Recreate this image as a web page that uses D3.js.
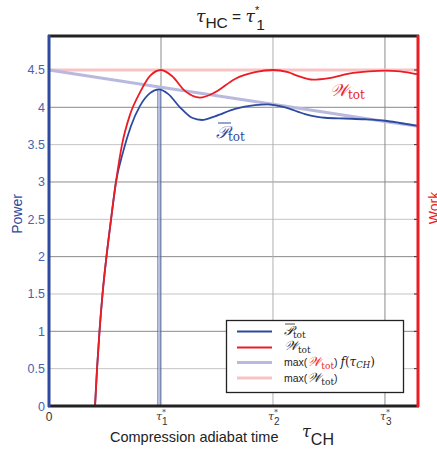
<!DOCTYPE html>
<html>
<head>
<meta charset="utf-8">
<script src="https://cdn.jsdelivr.net/npm/d3@7"></script>
<style>
  body { margin: 0; background: #fff; }
  svg { display: block; }
  text { font-family: "Liberation Sans", Arial, sans-serif; }
  .math { font-family: "DejaVu Serif", "Liberation Serif", serif; }
</style>
</head>
<body>
<script>
// data (tau in units of tau*_1)
const wTau = [0.411, 0.429, 0.451, 0.478, 0.513, 0.554, 0.598, 0.652, 0.723, 0.8125, 0.902, 1.0, 1.098, 1.214, 1.348, 1.482, 1.661, 1.839, 2.0, 2.134, 2.241, 2.357, 2.5, 2.679, 2.857, 3.0, 3.134, 3.295];
const wTot = [0, 0.5, 1.0, 1.5, 2.0, 2.5, 3.0, 3.5, 3.9, 4.2, 4.42, 4.5, 4.42, 4.22, 4.13, 4.2, 4.38, 4.47, 4.5, 4.47, 4.41, 4.37, 4.39, 4.45, 4.48, 4.49, 4.48, 4.44];

const pTau = [0.411, 0.429, 0.451, 0.478, 0.513, 0.554, 0.598, 0.661, 0.732, 0.8125, 0.902, 0.982, 1.063, 1.17, 1.277, 1.366, 1.482, 1.661, 1.839, 1.955, 2.107, 2.286, 2.464, 2.643, 2.821, 3.0, 3.134, 3.295];
const pTot = [0, 0.5, 1.0, 1.5, 2.0, 2.5, 3.0, 3.4, 3.75, 4.02, 4.19, 4.24, 4.18, 4.0, 3.86, 3.83, 3.88, 3.98, 4.03, 4.04, 4.0, 3.91, 3.86, 3.85, 3.84, 3.82, 3.79, 3.75];

const fTau = [0, 1, 2, 3, 3.295];
const fVal = [4.5, 4.27, 4.04, 3.81, 3.745];

const maxTau = [0, 3.295];
const maxVal = [4.5, 4.5];

const yTicks = [0, 0.5, 1, 1.5, 2, 2.5, 3, 3.5, 4, 4.5];
const xTicks = [1, 2, 3];

const blue = "#2d4aa0", red = "#ec1c24", lav = "#b9b9e0", pink = "#f8c3c3";

const W = 437, H = 450;
const svg = d3.select("body").append("svg").attr("width", W).attr("height", H);

const x = d3.scaleLinear().domain([0, 3.295]).range([49, 418]);
const y = d3.scaleLinear().domain([0, 4.955]).range([406, 36]);

// grid
svg.append("g").selectAll("line").data(yTicks.filter(v => v > 0 && v < 4.5)).enter().append("line")
  .attr("x1", x(0)).attr("x2", x(3.295))
  .attr("y1", d => y(d)).attr("y2", d => y(d))
  .attr("stroke", d => d % 1 === 0 ? "#8a8a8a" : "#c4c4c4").attr("stroke-width", 1);
svg.append("g").selectAll("line").data(xTicks).enter().append("line")
  .attr("x1", d => x(d)).attr("x2", d => x(d))
  .attr("y1", y(0)).attr("y2", 36)
  .attr("stroke", d => d === 2 ? "#b0b0b0" : "#8a8a8a").attr("stroke-width", 1);

const line = d3.line().x(d => x(d[0])).y(d => y(d[1])).curve(d3.curveMonotoneX);

// reference lines
svg.append("path").datum(maxTau.map((t, i) => [t, maxVal[i]]))
  .attr("d", line).attr("fill", "none").attr("stroke", pink).attr("stroke-width", 3);
svg.append("path").datum(fTau.map((t, i) => [t, fVal[i]]))
  .attr("d", d3.line().x(d => x(d[0])).y(d => y(d[1])))
  .attr("fill", "none").attr("stroke", lav).attr("stroke-width", 3);

// marker at tau*_1
const peakP = d3.max(pTot);
const peakT = pTau[pTot.indexOf(peakP)];
svg.append("line").attr("x1", x(peakT)).attr("x2", x(peakT)).attr("y1", y(peakP)).attr("y2", y(0))
  .attr("stroke", "#d4d4ee").attr("stroke-width", 1.5);
[-1.2, 1.2].forEach(o => {
  svg.append("line").attr("x1", x(peakT) + o).attr("x2", x(peakT) + o).attr("y1", y(peakP)).attr("y2", y(0))
    .attr("stroke", blue).attr("stroke-width", 0.7);
});

// curves
svg.append("path").datum(pTau.map((t, i) => [t, pTot[i]]))
  .attr("d", line).attr("fill", "none").attr("stroke", blue).attr("stroke-width", 1.8);
svg.append("path").datum(wTau.map((t, i) => [t, wTot[i]]))
  .attr("d", line).attr("fill", "none").attr("stroke", red).attr("stroke-width", 1.8);

// right-side ticks
svg.append("g").selectAll("line").data(yTicks.filter(v => v > 0)).enter().append("line")
  .attr("x1", x(3.295) - 4).attr("x2", x(3.295)).attr("y1", d => y(d)).attr("y2", d => y(d))
  .attr("stroke", "#333").attr("stroke-width", 1);

// frame
svg.append("line").attr("x1", 48).attr("x2", 419).attr("y1", 36).attr("y2", 36).attr("stroke", "#222").attr("stroke-width", 3);
svg.append("line").attr("x1", 48).attr("x2", 419).attr("y1", 406).attr("y2", 406).attr("stroke", "#222").attr("stroke-width", 3);
svg.append("line").attr("x1", 49).attr("x2", 49).attr("y1", 35).attr("y2", 407).attr("stroke", blue).attr("stroke-width", 3);
svg.append("line").attr("x1", 418).attr("x2", 418).attr("y1", 35).attr("y2", 407).attr("stroke", red).attr("stroke-width", 3);

// y tick labels
svg.append("g").selectAll("text").data(yTicks).enter().append("text")
  .attr("x", 45).attr("y", d => y(d) + 4.5).attr("text-anchor", "end")
  .attr("fill", "#4a62b0").style("font-size", "12.5px")
  .text(d => d);

// x tick labels
svg.append("text").attr("x", 49).attr("y", 421).attr("text-anchor", "middle").style("font-size", "12px").attr("fill", "#333").text("0");
xTicks.forEach(t => {
  const g = svg.append("text").attr("class", "math").attr("x", x(t) - 5).attr("y", 420).style("font-size", "11px").attr("fill", "#333");
  g.append("tspan").style("font-style", "italic").text("τ");
  g.append("tspan").attr("dy", -5).style("font-size", "8px").text("*");
  g.append("tspan").attr("dx", -4).attr("dy", 10).style("font-size", "10px").style("font-family", "Liberation Sans, Arial, sans-serif").text(t);
});

// axis titles
svg.append("text").attr("transform", "translate(22,214) rotate(-90)").attr("text-anchor", "middle")
  .attr("fill", blue).style("font-size", "14px").text("Power");
svg.append("text").attr("transform", "translate(439,208) rotate(-90)").attr("text-anchor", "middle")
  .attr("fill", red).style("font-size", "14px").text("Work");
svg.append("text").attr("x", 110).attr("y", 442).style("font-size", "14.5px").attr("fill", "#222").text("Compression adiabat time");
const xl = svg.append("text").attr("x", 302).attr("y", 437).attr("fill", "#222");
xl.append("tspan").attr("class", "math").style("font-style", "italic").style("font-size", "16px").text("τ");
xl.append("tspan").attr("dy", 8).style("font-size", "16px").text("CH");

// title
const tl = svg.append("text").attr("x", 196).attr("y", 22).attr("fill", "#222").style("font-size", "15.5px");
tl.append("tspan").attr("class", "math").style("font-style", "italic").style("font-size", "17px").text("τ");
tl.append("tspan").attr("dy", 6).text("HC");
tl.append("tspan").attr("dy", -6).text(" = ");
tl.append("tspan").attr("class", "math").style("font-style", "italic").style("font-size", "17px").text("τ");
tl.append("tspan").attr("dy", -8).style("font-size", "11px").text("*");
tl.append("tspan").attr("dx", -3).attr("dy", 16).text("1");

// curve labels
const wl = svg.append("text").attr("class", "math").attr("x", 330).attr("y", 96).attr("fill", red);
wl.append("tspan").style("font-size", "17px").style("font-style", "italic").text("𝒲");
wl.append("tspan").attr("dy", 3).style("font-size", "12px").text("tot");
const pl = svg.append("text").attr("class", "math").attr("x", 216).attr("y", 138).attr("fill", blue);
pl.append("tspan").style("font-size", "17px").style("font-style", "italic").text("𝒫");
pl.append("tspan").attr("dy", 3).style("font-size", "12px").text("tot");
svg.append("line").attr("x1", 218).attr("x2", 231).attr("y1", 123).attr("y2", 123).attr("stroke", blue).attr("stroke-width", 1);

// legend
const lg = svg.append("g");
lg.append("rect").attr("x", 226.5).attr("y", 320.5).attr("width", 177).attr("height", 72)
  .attr("fill", "#fff").attr("stroke", "#222").attr("stroke-width", 1.3);
const legItems = [
  { c: blue, w: 1.8, yy: 331.5 },
  { c: red, w: 1.8, yy: 347.5 },
  { c: lav, w: 3, yy: 362.5 },
  { c: pink, w: 3, yy: 378 }
];
legItems.forEach(d => {
  lg.append("line").attr("x1", 237).attr("x2", 272).attr("y1", d.yy).attr("y2", d.yy).attr("stroke", d.c).attr("stroke-width", d.w);
});
let t = lg.append("text").attr("class", "math").attr("x", 284).attr("y", 335).attr("fill", "#222");
t.append("tspan").style("font-size", "13px").style("font-style", "italic").text("𝒫");
t.append("tspan").attr("dy", 3).style("font-size", "9px").text("tot");
lg.append("line").attr("x1", 285).attr("x2", 295).attr("y1", 324).attr("y2", 324).attr("stroke", "#222").attr("stroke-width", 0.8);
t = lg.append("text").attr("class", "math").attr("x", 284).attr("y", 350).attr("fill", "#222");
t.append("tspan").style("font-size", "13px").style("font-style", "italic").text("𝒲");
t.append("tspan").attr("dy", 3).style("font-size", "9px").text("tot");
t = lg.append("text").attr("x", 284).attr("y", 366).attr("fill", "#222").style("font-size", "10.5px");
t.append("tspan").text("max(");
t.append("tspan").attr("class", "math").attr("fill", red).style("font-size", "13px").style("font-style", "italic").text("𝒲");
t.append("tspan").attr("class", "math").attr("fill", red).attr("dy", 3).style("font-size", "9px").text("tot");
t.append("tspan").attr("dy", -3).text(") ");
t.append("tspan").attr("class", "math").style("font-style", "italic").style("font-size", "12px").text("f");
t.append("tspan").attr("class", "math").style("font-size", "12px").text("(");
t.append("tspan").attr("class", "math").style("font-style", "italic").style("font-size", "12px").text("τ");
t.append("tspan").attr("class", "math").attr("dy", 2).style("font-style", "italic").style("font-size", "8.5px").text("CH");
t.append("tspan").attr("class", "math").attr("dy", -2).style("font-size", "12px").text(")");
t = lg.append("text").attr("x", 284).attr("y", 382).attr("fill", "#222").style("font-size", "10.5px");
t.append("tspan").text("max(");
t.append("tspan").attr("class", "math").style("font-size", "13px").style("font-style", "italic").text("𝒲");
t.append("tspan").attr("class", "math").attr("dy", 3).style("font-size", "9px").text("tot");
t.append("tspan").attr("dy", -3).text(")");
</script>
</body>
</html>
